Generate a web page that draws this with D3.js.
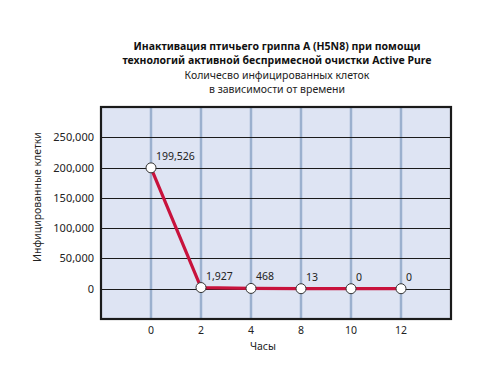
<!DOCTYPE html>
<html>
<head>
<meta charset="utf-8">
<script src="https://cdn.jsdelivr.net/npm/d3@7"></script>
<style>
  body { margin:0; background:#fff; }
  text { font-family: "Noto Sans", "DejaVu Sans", sans-serif; fill:#222; }
</style>
</head>
<body>
<div id="chart"></div>
<script>
// data
var hours = ['0','2','4','8','10','12'];
var cells = [199526, 1927, 468, 13, 0, 0];
var valueLabels = ['199,526','1,927','468','13','0','0'];
var yTicks = [0, 50000, 100000, 150000, 200000, 250000];
var titleLines = ['Инактивация птичьего гриппа A (H5N8) при помощи',
                  'технологий активной беспримесной очистки Active Pure'];
var subtitleLines = ['Количесво инфицированных клеток', 'в зависимости от времени'];

var W = 500, H = 380;
var m = {left:101, right:49, top:107, bottom:61};

var svg = d3.select('#chart').append('svg')
  .attr('width', W).attr('height', H);

var x = d3.scaleLinear().domain([-1, hours.length]).range([m.left, W - m.right]);
var y = d3.scaleLinear().domain([-50000, 300000]).range([H - m.bottom, m.top]);

// background
svg.append('rect')
  .attr('x', m.left).attr('y', m.top)
  .attr('width', W - m.right - m.left).attr('height', H - m.bottom - m.top)
  .attr('fill', '#dee4f3');

// vertical grid (light blue)
svg.selectAll('.vgrid').data(hours).enter().append('line')
  .attr('x1', function(d,i){ return x(i); }).attr('x2', function(d,i){ return x(i); })
  .attr('y1', m.top).attr('y2', H - m.bottom)
  .attr('stroke', '#9bb0ce').attr('stroke-width', 2.5);

// horizontal grid
svg.selectAll('.hgrid').data(yTicks).enter().append('line')
  .attr('x1', m.left).attr('x2', W - m.right)
  .attr('y1', function(d){ return Math.round(y(d)) + 0.5; })
  .attr('y2', function(d){ return Math.round(y(d)) + 0.5; })
  .attr('stroke', '#1a1a1a').attr('stroke-width', 1);

// frame
svg.append('rect')
  .attr('x', m.left).attr('y', m.top)
  .attr('width', W - m.right - m.left).attr('height', H - m.bottom - m.top)
  .attr('fill', 'none').attr('stroke', '#1a1a1a').attr('stroke-width', 2.2);

// y tick labels
var fmt = d3.format(',');
svg.selectAll('.ylab').data(yTicks).enter().append('text')
  .attr('x', 94).attr('y', function(d){ return y(d) + 4; })
  .attr('text-anchor', 'end').attr('font-size', 11)
  .text(function(d){ return fmt(d); });

// x tick labels
svg.selectAll('.xlab').data(hours).enter().append('text')
  .attr('x', function(d,i){ return x(i); }).attr('y', 334)
  .attr('text-anchor', 'middle').attr('font-size', 10.5)
  .text(function(d){ return d; });

// axis titles
svg.append('text')
  .attr('x', 263).attr('y', 350).attr('text-anchor', 'middle').attr('font-size', 10.5)
  .text('Часы');
svg.append('text')
  .attr('transform', 'translate(41,197) rotate(-90)')
  .attr('text-anchor', 'middle').attr('font-size', 10.5)
  .text('Инфицированные клетки');

// titles
svg.selectAll('.title').data(titleLines).enter().append('text')
  .attr('x', 277).attr('y', function(d,i){ return 50 + i*14.3; })
  .attr('text-anchor', 'middle').attr('font-size', 10.5).attr('font-weight', 'bold')
  .style('fill', '#111')
  .text(function(d){ return d; });
svg.selectAll('.subtitle').data(subtitleLines).enter().append('text')
  .attr('x', 277).attr('y', function(d,i){ return 78.6 + i*14.3; })
  .attr('text-anchor', 'middle').attr('font-size', 10.5)
  .text(function(d){ return d; });

// line
var line = d3.line()
  .x(function(d,i){ return x(i); })
  .y(function(d){ return y(d); });
svg.append('path').datum(cells)
  .attr('d', line).attr('fill', 'none')
  .attr('stroke', '#c8123c').attr('stroke-width', 3.2)
  .attr('stroke-linejoin', 'round');

// markers
svg.selectAll('.pt').data(cells).enter().append('circle')
  .attr('cx', function(d,i){ return x(i); }).attr('cy', function(d){ return y(d); })
  .attr('r', 5).attr('fill', '#fff').attr('stroke', '#333').attr('stroke-width', 1);

// value labels
svg.selectAll('.vlab').data(cells).enter().append('text')
  .attr('x', function(d,i){ return x(i) + 5; })
  .attr('y', function(d){ return y(d) - 8; })
  .attr('font-size', 10.5)
  .text(function(d,i){ return valueLabels[i]; });
</script>
</body>
</html>
